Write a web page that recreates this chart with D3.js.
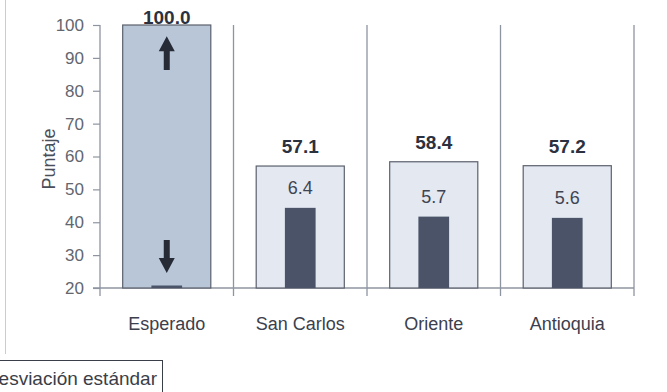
<!DOCTYPE html>
<html><head><meta charset="utf-8">
<script src="https://cdn.jsdelivr.net/npm/d3@7"></script>
<style>body{margin:0;background:#fff}svg{display:block}text{font-family:"Liberation Sans",Arial,sans-serif}</style>
</head><body><svg id="c" width="667" height="392"></svg>
<script>
const categories = ["Esperado", "San Carlos", "Oriente", "Antioquia"];
const means = [100.0, 57.1, 58.4, 57.2];
const sdValues = [0.2, 6.4, 5.7, 5.6];
const sdLabels = [null, "6.4", "5.7", "5.6"];
const yTicks = [20, 30, 40, 50, 60, 70, 80, 90, 100];
const yLabel = "Puntaje";
const legendLabel = "Desviación estándar";

const svg = d3.select("#c");
const x = d3.scaleBand().domain(categories).range([100, 634]).padding(0);
const y = d3.scaleLinear().domain([20, 100]).range([288, 25]);
const ySd = d3.scaleLinear().domain([0, 21]).range([288, 25]);

// frame line at left
svg.append("line").attr("x1", 5.5).attr("x2", 5.5).attr("y1", 0).attr("y2", 354)
  .attr("stroke", "#c8ccd3").attr("stroke-width", 1);

// category separators
const seps = x.domain().map(d => x(d)).concat([x.range()[1]]);
svg.selectAll(".sep").data(seps.slice(1)).enter().append("line")
  .attr("x1", d => d).attr("x2", d => d).attr("y1", y(100)).attr("y2", 296)
  .attr("stroke", "#8e94a0").attr("stroke-width", 1.3);

// y axis
const yAxis = svg.append("g").attr("transform", "translate(100,0)")
  .call(d3.axisLeft(y).tickValues(yTicks).tickSize(7).tickPadding(9));
yAxis.select(".domain").attr("stroke", "#8e94a0").attr("stroke-width", 1.3)
  .attr("d", `M0,${y(100)}V296`);
yAxis.selectAll(".tick line").attr("stroke", "#8e94a0").attr("stroke-width", 1.2);
yAxis.selectAll(".tick text").attr("fill", "#62666f").style("font-size", "17px")
  .style("font-family", "'Liberation Sans',Arial,sans-serif");

// x axis baseline
svg.append("line").attr("x1", 93).attr("x2", 634).attr("y1", y(20)).attr("y2", y(20))
  .attr("stroke", "#8e94a0").attr("stroke-width", 1.3);

// y label
svg.append("text").attr("transform", `translate(55,159) rotate(-90)`)
  .attr("text-anchor", "middle").attr("fill", "#4a4e58").style("font-size", "18px").text(yLabel);

// mean bars
const bw = x.bandwidth() * 0.66;
svg.selectAll(".mean").data(categories).enter().append("rect")
  .attr("x", d => x(d) + (x.bandwidth() - bw) / 2)
  .attr("y", (d, i) => y(means[i]))
  .attr("width", bw)
  .attr("height", (d, i) => y(20) - y(means[i]))
  .attr("fill", (d, i) => i === 0 ? "#b9c6d8" : "#e3e8f1")
  .attr("stroke", "#5b606c").attr("stroke-width", 1.2);

// sd bars
const sw = x.bandwidth() * 0.23;
svg.selectAll(".sd").data(categories).enter().append("rect")
  .attr("x", d => x(d) + (x.bandwidth() - sw) / 2)
  .attr("y", (d, i) => ySd(sdValues[i]))
  .attr("width", sw)
  .attr("height", (d, i) => ySd(0) - ySd(sdValues[i]))
  .attr("fill", "#4a5367");

// mean labels
svg.selectAll(".ml").data(categories).enter().append("text")
  .attr("x", d => x(d) + x.bandwidth() / 2)
  .attr("y", (d, i) => Math.max(y(means[i]) - 13, 24))
  .attr("text-anchor", "middle").attr("fill", "#2c3140")
  .style("font-size", "19px").style("font-weight", "bold")
  .text((d, i) => means[i].toFixed(1));

// sd labels
svg.selectAll(".sl").data(categories.filter((d, i) => sdLabels[i])).enter().append("text")
  .attr("x", d => x(d) + x.bandwidth() / 2)
  .attr("y", d => ySd(sdValues[categories.indexOf(d)]) - 14)
  .attr("text-anchor", "middle").attr("fill", "#3f4452")
  .style("font-size", "18px")
  .text(d => sdLabels[categories.indexOf(d)]);

// x labels
svg.selectAll(".xl").data(categories).enter().append("text")
  .attr("x", d => x(d) + x.bandwidth() / 2).attr("y", 330)
  .attr("text-anchor", "middle").attr("fill", "#3c404c").style("font-size", "18px")
  .text(d => d);

// arrows in Esperado bar
const ax = x("Esperado") + x.bandwidth() / 2;
function arrow(tipY, tailY) {
  const dir = tipY < tailY ? 1 : -1;
  const headH = 15;
  const p = d3.path();
  p.moveTo(ax, tipY);
  p.lineTo(ax + 8, tipY + dir * headH);
  p.lineTo(ax + 3, tipY + dir * headH);
  p.lineTo(ax + 3, tailY);
  p.lineTo(ax - 3, tailY);
  p.lineTo(ax - 3, tipY + dir * headH);
  p.lineTo(ax - 8, tipY + dir * headH);
  p.closePath();
  svg.append("path").attr("d", p.toString()).attr("fill", "#262b36");
}
arrow(y(96.6), y(86.3));
arrow(y(24.6), y(34.6));

// legend box (clipped at left)
svg.append("rect").attr("x", -30).attr("y", 360.5).attr("width", 192.5).attr("height", 40)
  .attr("fill", "#fff").attr("stroke", "#3a3e48").attr("stroke-width", 1);
svg.append("text").attr("x", 157).attr("y", 385).attr("text-anchor", "end")
  .attr("fill", "#3a3e48").style("font-size", "19px").text(legendLabel);
</script></body></html>
